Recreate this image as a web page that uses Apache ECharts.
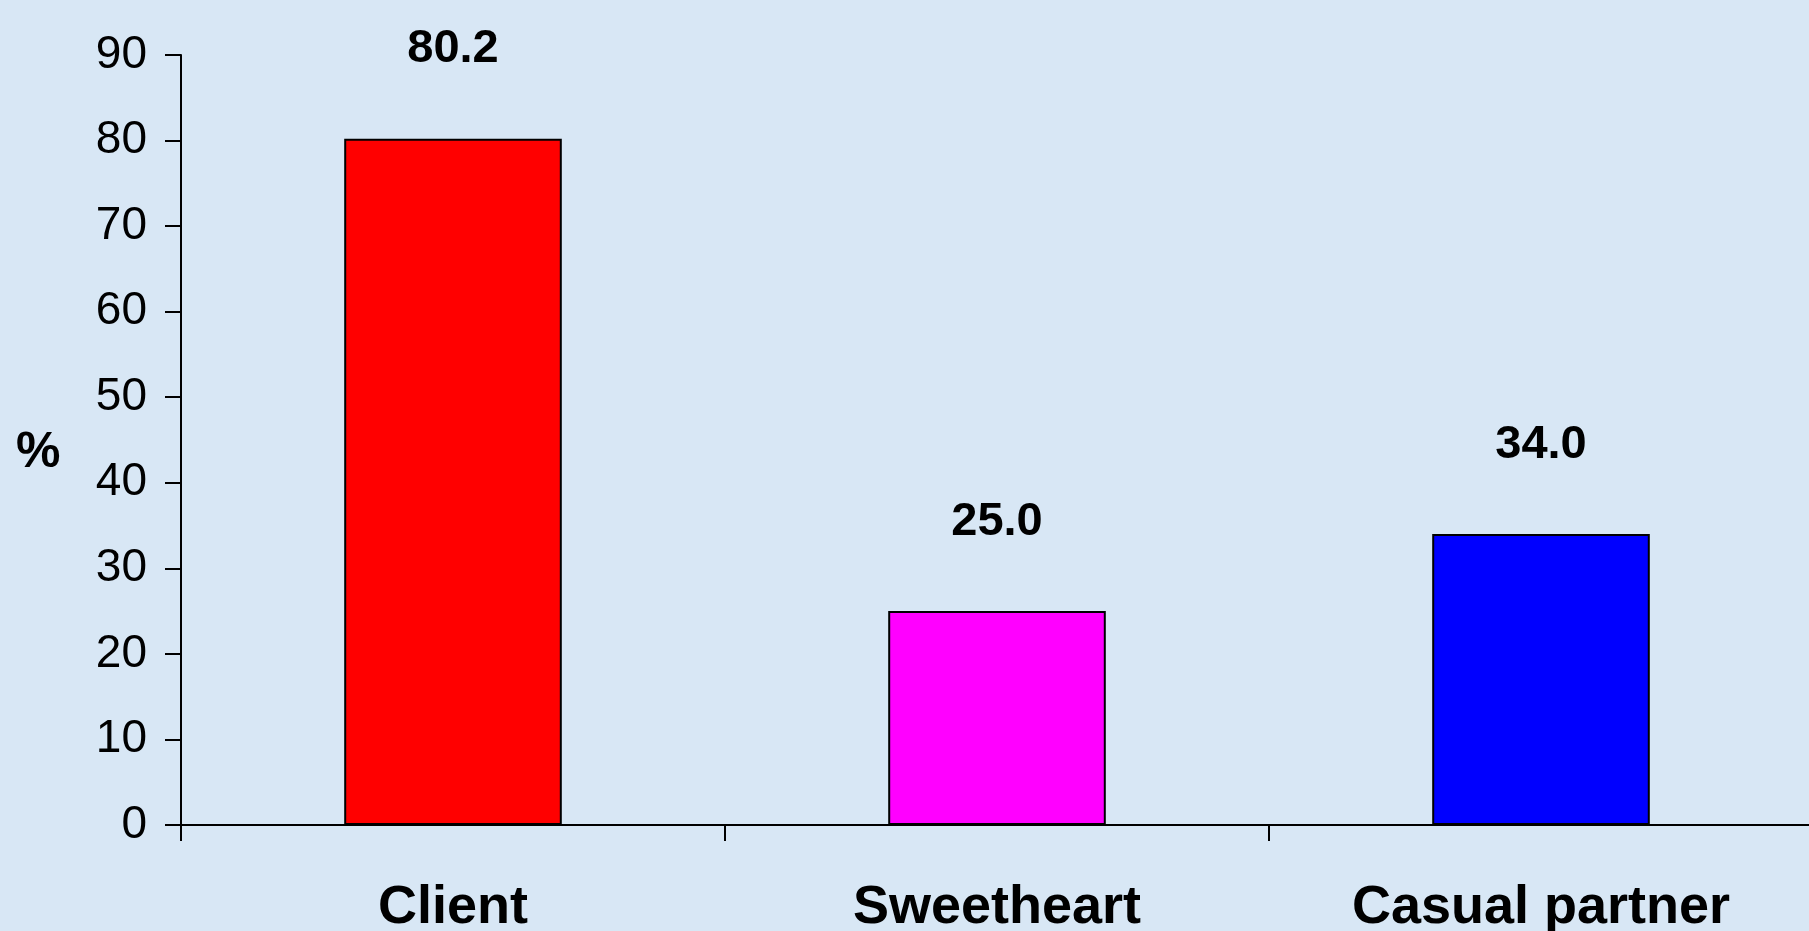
<!DOCTYPE html>
<html>
<head>
<meta charset="utf-8">
<script src="https://cdn.jsdelivr.net/npm/echarts@6/dist/echarts.min.js"></script>
<style>
    html, body { margin: 0; padding: 0; background: #d8e7f5; }
    #chart { width: 1809px; height: 931px; }
</style>
</head>
<body>
<div id="chart"></div>
<script>
var categories = ['Client', 'Sweetheart', 'Casual partner'];
var values = [80.2, 25.0, 34.0];
var barColors = ['#ff0000', '#ff00ff', '#0000ff'];
var yTicks = [0, 10, 20, 30, 40, 50, 60, 70, 80, 90];

var chart = echarts.init(document.getElementById('chart'));
var font = '"Liberation Sans", Arial, sans-serif';

var option = {
    backgroundColor: 'transparent',
    animation: false,
    grid: {
        left: 181,
        right: -4,
        top: 55,
        bottom: 106,
        containLabel: false,
        outerBoundsMode: 'none'
    },
    // axis title "%"
    graphic: [{
        type: 'text',
        left: 16,
        top: 428,
        style: {
            text: '%',
            fill: '#000',
            font: 'bold 50px "Liberation Sans", Arial, sans-serif'
        }
    }],
    xAxis: {
        type: 'category',
        data: categories,
        axisLine: { lineStyle: { color: '#000', width: 2 } },
        axisTick: { show: true, length: 16, lineStyle: { color: '#000', width: 2 } },
        axisLabel: {
            color: '#000',
            fontFamily: font,
            fontWeight: 'bold',
            fontSize: 54,
            margin: 56
        }
    },
    yAxis: {
        type: 'value',
        min: yTicks[0],
        max: yTicks[yTicks.length - 1],
        interval: 10,
        splitLine: { show: false },
        axisLine: { show: true, lineStyle: { color: '#000', width: 2 } },
        axisTick: { show: true, length: 16, lineStyle: { color: '#000', width: 2 } },
        axisLabel: {
            color: '#000',
            fontFamily: font,
            fontSize: 46,
            margin: 34
        }
    },
    series: [{
        type: 'bar',
        barWidth: '40%',
        data: values.map(function (v, i) {
            return {
                value: v,
                itemStyle: { color: barColors[i], borderColor: '#000', borderWidth: 2 }
            };
        }),
        label: {
            show: true,
            position: 'top',
            distance: 66,
            color: '#000',
            fontFamily: font,
            fontWeight: 'bold',
            fontSize: 47,
            formatter: function (p) { return p.value.toFixed(1); }
        }
    }]
};
chart.setOption(option);
</script>
</body>
</html>
